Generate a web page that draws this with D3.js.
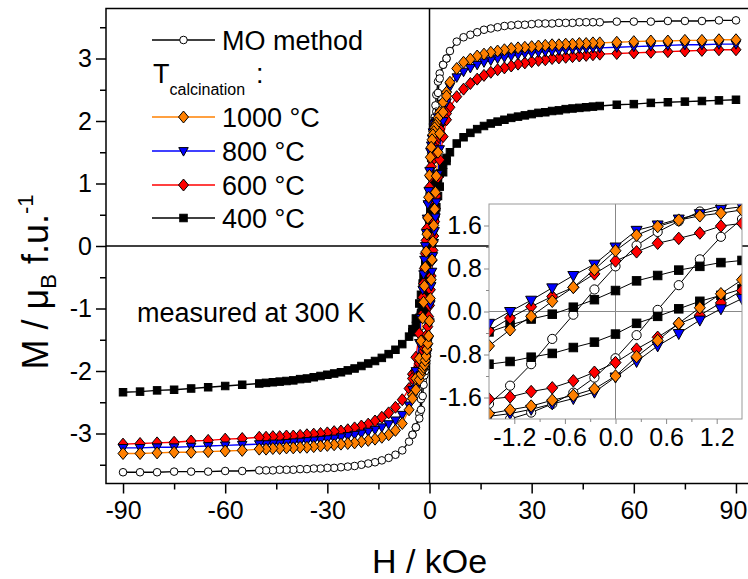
<!DOCTYPE html>
<html>
<head>
<meta charset="utf-8">
<script src="https://cdn.jsdelivr.net/npm/d3@7"></script>
<style>
  body { margin: 0; background: #fff; }
  svg text { font-family: "Liberation Sans", Arial, sans-serif; fill: #000; }
</style>
</head>
<body>
<svg id="chart" width="748" height="579"></svg>
<script>
// field (kOe) of the branch coming down from +90 to -90
const H_DOWN = [90, 85, 80, 75, 70, 65, 60, 55, 50,
    48, 46, 44, 42, 40, 38, 36, 34, 32, 30, 28, 26, 24, 22, 20, 18, 16, 14, 12, 10, 8, 6,
    5, 4, 3, 2.5, 2, 1.75,
    1.5, 1.25, 1, 0.75, 0.5, 0.25, 0, -0.25, -0.5, -0.75, -1, -1.25, -1.5,
    -1.75, -2, -2.5, -3, -4, -5,
    -6, -8, -10, -12, -14, -16, -18, -20, -22, -24, -26, -28, -30, -32, -34, -36, -38, -40, -42, -44, -46, -48,
    -50, -55, -60, -65, -70, -75, -80, -85, -90];
// field of the branch going back up, only where it splits from the down branch
const H_UP = [-5, -4, -3, -2.5, -2, -1.75, -1.5, -1.25, -1, -0.75, -0.5, -0.25, 0,
    0.25, 0.5, 0.75, 1, 1.25, 1.5, 1.75, 2, 2.5, 3, 4, 5];

// M (muB per f.u.)
const MO_DOWN = [3.61, 3.61, 3.60, 3.60, 3.60, 3.59, 3.59, 3.59, 3.58,
    3.58, 3.58, 3.58, 3.57, 3.57, 3.57, 3.56, 3.56, 3.56, 3.55, 3.54, 3.54, 3.53, 3.52, 3.50, 3.48, 3.46, 3.42, 3.38, 3.34, 3.27, 3.12,
    3.0, 2.9, 2.76, 2.63, 2.42, 2.25,
    2.06, 1.97, 1.86, 1.68, 1.48, 1.23, 0.84, 0.41, -0.06, -0.51, -0.98, -1.38, -1.72,
    -1.95, -2.15, -2.45, -2.68, -2.9, -3.02,
    -3.13, -3.27, -3.34, -3.39, -3.43, -3.46, -3.48, -3.50, -3.52, -3.53, -3.54, -3.55, -3.55, -3.56, -3.56, -3.57, -3.57, -3.58, -3.58, -3.58, -3.59, -3.59,
    -3.59, -3.60, -3.60, -3.61, -3.61, -3.61, -3.62, -3.62, -3.62];
const MO_UP = [-3.02, -2.9, -2.76, -2.62, -2.4, -2.22, -2.07, -2.0, -1.88, -1.72, -1.51, -1.23, -0.87,
    -0.44, 0.03, 0.49, 0.97, 1.39, 1.72, 1.95, 2.15, 2.45, 2.68, 2.9, 3.0];

const T1000_DOWN = [3.30, 3.30, 3.29, 3.29, 3.28, 3.28, 3.27, 3.26, 3.25,
    3.25, 3.24, 3.24, 3.23, 3.23, 3.22, 3.22, 3.21, 3.20, 3.19, 3.18, 3.17, 3.16, 3.14, 3.12, 3.10, 3.07, 3.04, 2.99, 2.94, 2.84, 2.62,
    2.46, 2.3, 2.14, 2.05, 1.97, 1.93,
    1.89, 1.83, 1.78, 1.70, 1.58, 1.42, 1.13, 0.78, 0.45, 0.19, -0.09, -0.34, -0.64,
    -0.9, -1.15, -1.52, -1.8, -2.12, -2.38,
    -2.62, -2.84, -2.95, -3.02, -3.06, -3.09, -3.11, -3.13, -3.15, -3.16, -3.17, -3.18, -3.19, -3.20, -3.21, -3.22, -3.22, -3.23, -3.23, -3.24, -3.24, -3.25,
    -3.25, -3.27, -3.28, -3.29, -3.30, -3.30, -3.31, -3.32, -3.32];
const T1000_UP = [-2.44, -2.3, -2.14, -2.05, -1.98, -1.94, -1.9, -1.83, -1.76, -1.65, -1.56, -1.44, -1.2,
    -0.84, -0.54, -0.22, 0.07, 0.33, 0.59, 0.86, 1.12, 1.5, 1.8, 2.14, 2.4];

const T800_DOWN = [3.23, 3.23, 3.22, 3.22, 3.21, 3.20, 3.19, 3.18, 3.17,
    3.17, 3.16, 3.16, 3.15, 3.14, 3.13, 3.12, 3.11, 3.10, 3.09, 3.08, 3.06, 3.04, 3.02, 3.00, 2.97, 2.94, 2.90, 2.85, 2.79, 2.70, 2.55,
    2.42, 2.28, 2.13, 2.06, 2.0, 1.97,
    1.95, 1.9, 1.82, 1.72, 1.61, 1.51, 1.2, 0.88, 0.67, 0.44, 0.21, 0.0, -0.22,
    -0.45, -0.7, -1.15, -1.55, -2.0, -2.3,
    -2.55, -2.70, -2.79, -2.85, -2.90, -2.94, -2.97, -3.00, -3.02, -3.04, -3.06, -3.08, -3.09, -3.10, -3.11, -3.12, -3.13, -3.14, -3.15, -3.16, -3.16, -3.17,
    -3.17, -3.18, -3.19, -3.20, -3.21, -3.22, -3.22, -3.23, -3.23];
const T800_UP = [-2.42, -2.28, -2.13, -2.06, -2.0, -1.97, -1.95, -1.9, -1.82, -1.72, -1.62, -1.5, -1.22,
    -0.93, -0.64, -0.41, -0.16, 0.05, 0.24, 0.46, 0.7, 1.15, 1.55, 2.0, 2.3];

const T600_DOWN = [3.14, 3.14, 3.13, 3.12, 3.11, 3.10, 3.09, 3.08, 3.07,
    3.06, 3.05, 3.04, 3.03, 3.02, 3.01, 3.00, 2.98, 2.97, 2.95, 2.93, 2.91, 2.88, 2.85, 2.82, 2.78, 2.73, 2.67, 2.60, 2.51, 2.39, 2.22,
    2.12, 2.0, 1.87, 1.8, 1.72, 1.68,
    1.64, 1.59, 1.46, 1.36, 1.27, 1.11, 0.94, 0.70, 0.45, 0.28, 0.09, -0.12, -0.36,
    -0.6, -0.82, -1.12, -1.4, -1.78, -2.05,
    -2.28, -2.46, -2.58, -2.67, -2.74, -2.80, -2.85, -2.88, -2.91, -2.94, -2.96, -2.97, -2.99, -3.00, -3.01, -3.02, -3.03, -3.04, -3.04, -3.05, -3.05, -3.06,
    -3.06, -3.08, -3.09, -3.11, -3.12, -3.14, -3.15, -3.16, -3.17];
const T600_UP = [-2.12, -2.0, -1.88, -1.8, -1.73, -1.68, -1.63, -1.59, -1.49, -1.42, -1.29, -1.13, -0.95,
    -0.70, -0.48, -0.23, -0.07, 0.16, 0.39, 0.6, 0.8, 1.1, 1.38, 1.75, 2.02];

const T400_DOWN = [2.34, 2.33, 2.32, 2.31, 2.30, 2.29, 2.27, 2.26, 2.24,
    2.23, 2.22, 2.21, 2.20, 2.19, 2.17, 2.16, 2.14, 2.13, 2.11, 2.09, 2.07, 2.05, 2.02, 1.99, 1.96, 1.92, 1.87, 1.81, 1.74, 1.64, 1.50,
    1.41, 1.30, 1.16, 1.08, 1.01, 0.98,
    0.95, 0.91, 0.84, 0.77, 0.67, 0.57, 0.39, 0.22, 0.08, -0.05, -0.14, -0.25, -0.38,
    -0.5, -0.6, -0.78, -0.92, -1.16, -1.33,
    -1.45, -1.57, -1.66, -1.73, -1.79, -1.84, -1.88, -1.92, -1.96, -1.99, -2.02, -2.04, -2.06, -2.08, -2.10, -2.12, -2.13, -2.15, -2.16, -2.17, -2.18, -2.19,
    -2.20, -2.22, -2.24, -2.26, -2.28, -2.30, -2.31, -2.33, -2.34];
const T400_UP = [-1.38, -1.28, -1.15, -1.08, -1.03, -1.0, -0.98, -0.93, -0.85, -0.78, -0.67, -0.57, -0.42,
    -0.22, -0.09, 0.05, 0.19, 0.30, 0.42, 0.52, 0.62, 0.80, 0.95, 1.18, 1.36];

const X_TICKS = [-90, -60, -30, 0, 30, 60, 90];
const Y_TICKS = [-3, -2, -1, 0, 1, 2, 3];
const INSET_X_TICKS = [-1.2, -0.6, 0, 0.6, 1.2];
const INSET_Y_TICKS = [-1.6, -0.8, 0, 0.8, 1.6];

// drawing order: first is at the bottom
const series = [
    {label: 'MO method', down: MO_DOWN, up: MO_UP, line: '#000', fill: '#fff', shape: 'circle'},
    {label: '400 °C', down: T400_DOWN, up: T400_UP, line: '#000', fill: '#000', shape: 'square'},
    {label: '600 °C', down: T600_DOWN, up: T600_UP, line: '#ff0000', fill: '#ff0000', shape: 'diamond'},
    {label: '800 °C', down: T800_DOWN, up: T800_UP, line: '#0000ff', fill: '#0000ff', shape: 'triangle'},
    {label: '1000 °C', down: T1000_DOWN, up: T1000_UP, line: '#ff8000', fill: '#ff8000', shape: 'diamond'}
];

const svg = d3.select('#chart');

var margin = {top: 8.5, left: 106},
    width = 647,
    height = 475;

var x = d3.scaleLinear().domain([-95, 95]).range([margin.left, margin.left + width]);
var y = d3.scaleLinear().domain([-3.8, 3.8]).range([margin.top + height, margin.top]);

function toPoints(hs, ms) {
    return hs.map(function (h, i) { return {h: h, m: ms[i]}; });
}

// marker shapes, sz holds the sizes for one plot
function addMarkers(g, pts, s, sx, sy, sz) {
    const sel = g.selectAll(null).data(pts).enter();
    let m;
    if (s.shape === 'circle') {
        m = sel.append('circle')
            .attr('cx', d => sx(d.h)).attr('cy', d => sy(d.m))
            .attr('r', sz.r);
    } else if (s.shape === 'square') {
        m = sel.append('rect')
            .attr('x', d => sx(d.h) - sz.sq / 2).attr('y', d => sy(d.m) - sz.sq / 2)
            .attr('width', sz.sq).attr('height', sz.sq);
    } else if (s.shape === 'diamond') {
        const w = sz.dw / 2, h = sz.dh / 2;
        m = sel.append('path')
            .attr('transform', d => 'translate(' + sx(d.h) + ',' + sy(d.m) + ')')
            .attr('d', 'M0,' + (-h) + 'L' + w + ',0L0,' + h + 'L' + (-w) + ',0Z');
    } else {
        const w = sz.tw / 2, h = sz.th;
        m = sel.append('path')
            .attr('transform', d => 'translate(' + sx(d.h) + ',' + sy(d.m) + ')')
            .attr('d', 'M' + (-w) + ',' + (-h * 0.4) + 'L' + w + ',' + (-h * 0.4) + 'L0,' + (h * 0.6) + 'Z');
    }
    m.attr('fill', s.fill).attr('stroke', '#000').attr('stroke-width', 1);
}

// sz.lineColor overrides the series colour (the inset uses plain black lines)
function drawSeries(g, sx, sy, sz) {
    const line = d3.line().x(d => sx(d.h)).y(d => sy(d.m));
    series.forEach(function (s) {
        const down = toPoints(H_DOWN, s.down);
        const up = toPoints(H_UP, s.up);
        const col = sz.lineColor || s.line;
        g.append('path').datum(down).attr('d', line)
            .attr('fill', 'none').attr('stroke', col).attr('stroke-width', sz.lw);
        g.append('path').datum(up).attr('d', line)
            .attr('fill', 'none').attr('stroke', col).attr('stroke-width', sz.lw);
    });
    series.forEach(function (s) {
        addMarkers(g, toPoints(H_DOWN, s.down), s, sx, sy, sz);
        addMarkers(g, toPoints(H_UP, s.up), s, sx, sy, sz);
    });
}

// ---- main plot ----
svg.append('clipPath').attr('id', 'mainClip')
    .append('rect').attr('x', margin.left).attr('y', margin.top)
    .attr('width', width).attr('height', height);

const plot = svg.append('g').attr('clip-path', 'url(#mainClip)');
plot.append('line').attr('x1', margin.left).attr('x2', margin.left + width)
    .attr('y1', y(0)).attr('y2', y(0)).attr('stroke', '#000').attr('stroke-width', 1.5);
plot.append('line').attr('x1', x(0)).attr('x2', x(0))
    .attr('y1', margin.top).attr('y2', margin.top + height).attr('stroke', '#000').attr('stroke-width', 1.5);

const mainSizes = {r: 3.8, sq: 7.5, dw: 10, dh: 12, tw: 9.5, th: 8.5, lw: 1.3};
drawSeries(plot, x, y, mainSizes);

svg.append('rect').attr('x', margin.left).attr('y', margin.top)
    .attr('width', width).attr('height', height)
    .attr('fill', 'none').attr('stroke', '#000').attr('stroke-width', 1.5);

// axes
const xAxis = svg.append('g').attr('transform', 'translate(0,' + (margin.top + height) + ')')
    .call(d3.axisBottom(x).tickValues(X_TICKS).tickSize(10).tickSizeOuter(0).tickPadding(8).tickFormat(d => String(d)));
svg.append('g').attr('transform', 'translate(0,' + (margin.top + height) + ')')
    .call(d3.axisBottom(x).tickValues([-75, -45, -15, 15, 45, 75]).tickSize(6).tickSizeOuter(0).tickFormat(''));
const yAxis = svg.append('g').attr('transform', 'translate(' + margin.left + ',0)')
    .call(d3.axisLeft(y).tickValues(Y_TICKS).tickSize(10).tickSizeOuter(0).tickPadding(4).tickFormat(d => String(d)));
svg.append('g').attr('transform', 'translate(' + margin.left + ',0)')
    .call(d3.axisLeft(y).tickValues([-3.5, -2.5, -1.5, -0.5, 0.5, 1.5, 2.5, 3.5]).tickSize(6).tickSizeOuter(0).tickFormat(''));
svg.selectAll('.domain').remove();
svg.selectAll('.tick line').attr('stroke', '#000').attr('stroke-width', 1.5);
xAxis.selectAll('text').attr('font-size', 25).attr('font-family', null);
yAxis.selectAll('text').attr('font-size', 25).attr('font-family', null);
// the last label sits at the right edge, pull it in a little so it stays whole
xAxis.selectAll('.tick').filter(d => d === 90).select('text').attr('dx', -3);

svg.append('text').attr('x', x(0)).attr('y', 573).attr('text-anchor', 'middle')
    .attr('font-size', 34).text('H / kOe');

const yTitle = svg.append('text').attr('transform', 'translate(48,282) rotate(-90)')
    .attr('text-anchor', 'middle').attr('font-size', 36);
yTitle.append('tspan').text('M / μ');
yTitle.append('tspan').attr('font-size', 22).attr('dy', 8).text('B');
yTitle.append('tspan').attr('dy', -8).text(' f.u.');
yTitle.append('tspan').attr('font-size', 22).attr('dy', -15).text('-1');

svg.append('text').attr('x', 137).attr('y', 322).attr('font-size', 27).text('measured at 300 K');

// ---- legend ----
const legend = svg.append('g');
const legendRows = [
    {s: series[0], y: 40},
    {s: series[4], y: 117},
    {s: series[3], y: 151},
    {s: series[2], y: 185},
    {s: series[1], y: 218}
];
legendRows.forEach(function (r) {
    legend.append('line').attr('x1', 152).attr('x2', 215).attr('y1', r.y).attr('y2', r.y)
        .attr('stroke', r.s.line).attr('stroke-width', 1.5);
    addMarkers(legend, [{h: 183.5, m: r.y}], r.s, v => v, v => v, mainSizes);
    legend.append('text').attr('x', 222).attr('y', r.y + 9.5).attr('font-size', 27).text(r.s.label);
});
const tLabel = legend.append('text').attr('x', 153).attr('y', 83).attr('font-size', 27);
tLabel.append('tspan').text('T');
tLabel.append('tspan').attr('font-size', 16).attr('dy', 12).text('calcination');
legend.append('text').attr('x', 256).attr('y', 83).attr('font-size', 27).text(':');

// ---- inset ----
const inset = {left: 489, top: 204, width: 253, height: 215};
var ix = d3.scaleLinear().domain([-1.5, 1.5]).range([inset.left, inset.left + inset.width]);
var iy = d3.scaleLinear().domain([-2, 2]).range([inset.top + inset.height, inset.top]);

svg.append('rect').attr('x', inset.left).attr('y', inset.top)
    .attr('width', inset.width).attr('height', inset.height).attr('fill', '#fff');
svg.append('clipPath').attr('id', 'insetClip')
    .append('rect').attr('x', inset.left).attr('y', inset.top)
    .attr('width', inset.width).attr('height', inset.height);
const ig = svg.append('g').attr('clip-path', 'url(#insetClip)');
ig.append('line').attr('x1', inset.left).attr('x2', inset.left + inset.width)
    .attr('y1', iy(0)).attr('y2', iy(0)).attr('stroke', '#888').attr('stroke-width', 1);
ig.append('line').attr('x1', ix(0)).attr('x2', ix(0))
    .attr('y1', inset.top).attr('y2', inset.top + inset.height).attr('stroke', '#888').attr('stroke-width', 1);
drawSeries(ig, ix, iy, {r: 4.6, sq: 8.5, dw: 11, dh: 12.5, tw: 11, th: 10, lw: 1, lineColor: '#000'});

svg.append('rect').attr('x', inset.left).attr('y', inset.top)
    .attr('width', inset.width).attr('height', inset.height)
    .attr('fill', 'none').attr('stroke', '#999').attr('stroke-width', 1);

const ixAxis = svg.append('g').attr('transform', 'translate(0,' + (inset.top + inset.height) + ')')
    .call(d3.axisBottom(ix).tickValues(INSET_X_TICKS).tickSize(5).tickSizeOuter(0).tickPadding(4).tickFormat(d => d.toFixed(1)));
const ixMinor = svg.append('g').attr('transform', 'translate(0,' + (inset.top + inset.height) + ')')
    .call(d3.axisBottom(ix).tickValues([-0.9, -0.3, 0.3, 0.9]).tickSize(3).tickSizeOuter(0).tickFormat(''));
const iyAxis = svg.append('g').attr('transform', 'translate(' + inset.left + ',0)')
    .call(d3.axisLeft(iy).tickValues(INSET_Y_TICKS).tickSize(5).tickSizeOuter(0).tickPadding(2).tickFormat(d => d.toFixed(1)));
const iyMinor = svg.append('g').attr('transform', 'translate(' + inset.left + ',0)')
    .call(d3.axisLeft(iy).tickValues([-1.2, -0.4, 0.4, 1.2]).tickSize(3).tickSizeOuter(0).tickFormat(''));
[ixAxis, ixMinor, iyAxis, iyMinor].forEach(function (a) {
    a.select('.domain').remove();
    a.selectAll('.tick line').attr('stroke', '#888').attr('stroke-width', 1);
    a.selectAll('text').attr('font-size', 25).attr('font-family', null);
});
</script>
</body>
</html>
